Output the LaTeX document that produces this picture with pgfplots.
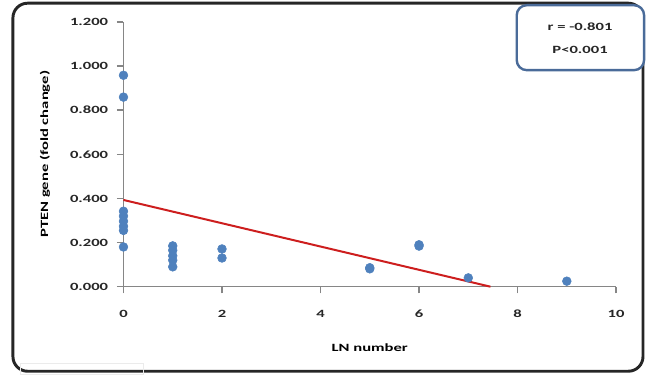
\documentclass[border=0pt]{standalone}
\usepackage{fontspec}
\setmainfont{Carlito}
\usepackage{graphicx}
\usepackage{pgfplots}
\pgfplotsset{compat=1.18}
\definecolor{ptblue}{RGB}{79,129,189}
\definecolor{trend}{RGB}{205,30,30}
\definecolor{axgray}{RGB}{134,134,134}
\definecolor{boxblue}{RGB}{74,107,153}
\newcommand{\W}[1]{\scalebox{1.5}[1]{#1}}
\begin{document}
\begin{tikzpicture}
\useasboundingbox (-92.6pt,-65.6pt) rectangle (394.1pt,215pt);
\draw[black!85, line width=2.2pt, rounded corners=11pt] (-82.9pt,-63.4pt) rectangle (389.6pt,212.6pt);
\draw[black!8, line width=0.6pt] (-77pt,-66pt) rectangle (14.6pt,-57.7pt);
\begin{axis}[
  at={(0pt,0pt)}, anchor=south west,
  scale only axis, width=369.4pt, height=198.6pt,
  xmin=0, xmax=10, ymin=0, ymax=1.2,
  axis x line*=bottom, axis y line*=left,
  axis line style={axgray, line width=1.1pt},
  xtick={0,2,4,6,8,10},
  ytick={0,0.2,0.4,0.6,0.8,1.0,1.2},
  tick align=outside, major tick length=5pt,
  tick style={axgray, line width=1pt},
  /pgf/number format/assume math mode=true,
  every tick label/.append style={font=\fontsize{8.3}{10}\selectfont\bfseries, text=black!85},
  xticklabel={\W{\pgfmathprintnumber{\tick}}},
  yticklabel={\W{\pgfmathprintnumber[fixed,fixed zerofill,precision=3]{\tick}}},
  x tick label style={yshift=-9pt},
  y tick label style={xshift=-3pt},
  every axis x label/.style={at={(axis description cs:0.5,-0.231)}, anchor=center, font=\fontsize{8.3}{10}\selectfont\bfseries},
  every axis y label/.style={at={(axis description cs:-0.1595,0.5)}, rotate=90, anchor=center, font=\fontsize{8.3}{10}\selectfont\bfseries},
  xlabel={\W{LN number}},
  ylabel={\W{PTEN gene (fold change)}},
  clip=false,
]
\addplot[only marks, mark=*, mark size=3.3pt, mark options={draw=ptblue, fill=ptblue}] coordinates {
  (0,0.958) (0,0.859) (0,0.342) (0,0.320) (0,0.297) (0,0.274) (0,0.255) (0,0.180)
  (1,0.185) (1,0.165) (1,0.140) (1,0.120) (1,0.090)
  (2,0.171) (2,0.130)
  (5,0.081) (5,0.086)
  (6,0.184) (6,0.190)
  (7,0.040)
  (9,0.025)
};
\addplot[trend, line width=1.5pt] coordinates {(0,0.393) (7.45,0)};
\end{axis}
\draw[boxblue, line width=1.8pt, rounded corners=7.5pt, fill=white] (294.9pt,162.4pt) rectangle (390.4pt,211.1pt);
\node[font=\fontsize{8.3}{10}\selectfont\bfseries, text=black!85] at (342.4pt,194.6pt) {\W{r = -0.801}};
\node[font=\fontsize{8.3}{10}\selectfont\bfseries, text=black!85] at (342.4pt,177.4pt) {\W{P<0.001}};
\end{tikzpicture}
\end{document}
